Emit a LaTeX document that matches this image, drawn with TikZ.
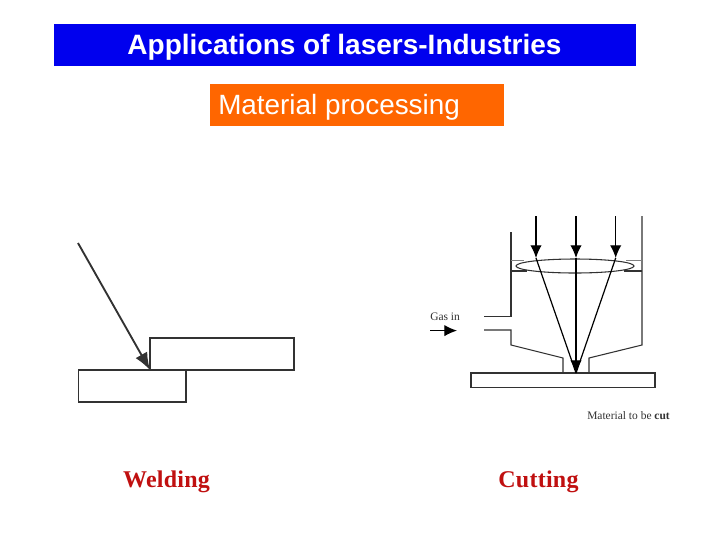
\documentclass[tikz,border=0pt]{standalone}
\usepackage{fontspec}
\setmainfont{Liberation Serif}
\setsansfont{Liberation Sans}
\usetikzlibrary{arrows.meta}
\definecolor{ttlblue}{RGB}{0,0,238}
\definecolor{ttlorange}{RGB}{255,102,0}
\definecolor{capred}{RGB}{192,16,16}
\definecolor{ink}{RGB}{50,50,50}
\tikzset{
  x=0.75pt,y=-0.75pt,
  banner/.style={inner sep=0pt,text=white,anchor=base},
  part/.style={draw=ink,line width=1.1pt,fill=white},
  wall/.style={draw=ink,line width=0.8pt},
  beam/.style={draw=black,line width=0.9pt},
  tip/.style={-{Latex[length=9.5pt,width=8.5pt]}},
  caption/.style={inner sep=0pt,anchor=base,text=capred,font=\bfseries\fontsize{18}{20}\selectfont\addfontfeature{LetterSpace=1}},
  small/.style={inner sep=0pt,anchor=base west,text=ink,font=\fontsize{8.6}{10}\selectfont},
}
\begin{document}
\begin{tikzpicture}
\useasboundingbox (0,0) rectangle (720,540);
\fill[white] (0,0) rectangle (720,540);
% banners
\fill[ttlblue] (54,24) rectangle (636,66);
\node[banner,font=\sffamily\bfseries\fontsize{21}{24}\selectfont] (title) at (344.5,54) {Applications of lasers-Industries};
\fill[ttlorange] (210,84) rectangle (504,126);
\node[banner,anchor=base west,font=\sffamily\fontsize{20.9}{24}\selectfont] (sub) at (218,114) {Material processing};
% welding
\coordinate (wstart) at (78,243);
\coordinate (wend) at (150,370);
\draw[part] (150,338) rectangle (294,370);
\draw[part] (78.5,370) rectangle (186,402);
\draw[draw=ink,line width=1.4pt,-{Latex[length=13pt,width=10pt]}] (wstart) -- (wend);
% cutting
\draw[wall] (511,232) -- (511,316.7) -- (484,316.7);
\draw[wall] (484,330) -- (511,330) -- (511,345) -- (563,358) -- (563,373);
\draw[wall] (642,216) -- (642,345) -- (589,358) -- (589,373);
\draw[wall,fill=white] (471,373) rectangle (655,387.5);
\draw[gray,line width=0.6pt] (511,260.7) -- (524,260.7) (626,260.7) -- (642,260.7);
\draw[ink,line width=1.1pt] (511,271) -- (527,271) (624,271) -- (642,271);
\draw[ink,line width=0.8pt] (575,266) ellipse (59 and 7);
\coordinate (a1) at (536,216); \coordinate (a2) at (576,216); \coordinate (a3) at (615.7,216);
\coordinate (b1) at (536,258); \coordinate (b2) at (576,258); \coordinate (b3) at (615.7,258);
\coordinate (focus) at (576,373);
\draw[beam,tip] (a1) -- (b1);
\draw[beam,tip] (a2) -- (b2);
\draw[beam,tip] (a3) -- (b3);
\draw[beam] (b1) -- (focus);
\draw[beam] (b3) -- (focus);
\draw[beam,tip] (b2) -- (focus);
\coordinate (g1) at (430,330.6); \coordinate (g2) at (457,330.6);
\draw[beam,tip] (g1) -- (g2);
\node[small] (gas) at (430,320) {Gas in};
\node[small] (mat) at (587,419.5) {Material to be \textbf{cut}};
% captions
\node[caption] (weld) at (166.5,487.5) {Welding};
\node[caption] (cut) at (538.5,487.5) {Cutting};
\end{tikzpicture}
\end{document}
